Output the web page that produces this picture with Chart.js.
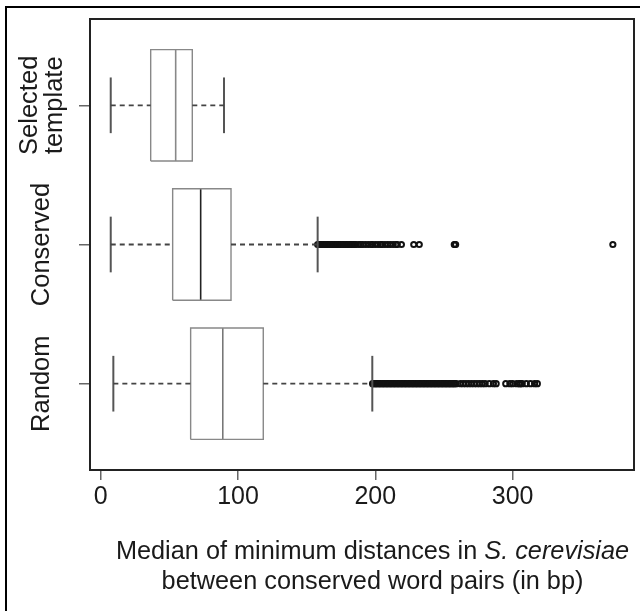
<!DOCTYPE html>
<html>
<head>
<meta charset="utf-8">
<script src="https://cdn.jsdelivr.net/npm/chart.js@4.4.1/dist/chart.umd.min.js"></script>
<style>
body{margin:0;width:640px;height:611px;overflow:hidden;background:#fff;position:relative;font-family:'Liberation Sans',Arial,sans-serif;}
#frame{position:absolute;left:5px;top:6px;width:700px;height:700px;border:2px solid #000;}
#wrap{position:absolute;left:0;top:0;width:640px;height:611px;}
#xtitle{position:absolute;left:0;top:535px;width:745px;text-align:center;font-size:25.3px;line-height:30px;color:#1a1a1a;}
</style>
</head>
<body>
<div id="frame"></div>
<div id="wrap"><canvas id="box_chart" width="640" height="611"></canvas></div>
<div id="xtitle">Median of minimum distances in <i>S. cerevisiae</i><br>between conserved word pairs (in bp)</div>
<script>
// box plot values (bp)
var groupLabels = ['Random', 'Conserved', ['Selected', 'template']];
var groupPos = [1, 2, 3];
var lowWhisker = [9.2, 7.3, 7.3];
var lowerQ = [65.5, 52.4, 36.4];
var medians = [88.9, 72.8, 54.6];
var upperQ = [118.4, 94.9, 66.7];
var highWhisker = [197.8, 158, 89.8];

var outRandom = [198,199,200,201,202,203,204,205,206,207,208,209,210,211,212,213,214,215,216,217,218,219,220,
	221,222,223,224,225,226,227,228,229,230,231,232,233,234,235,236,237,238,239,240,241,242,243,244,245,246,
	247,248,249,250,251,252,253,254,255,256,257,258,259,
	262,264,266,268,270,272,274,276,278,280,283,286,288,
	295,298,300,303,305,305.5,307,310,313,316,318];
var outConserved = [158,159,160,161,162,163,164,165,166,167,168,169,170,171,172,173,174,175,176,177,178,179,
	180,181,182,183,184,185,186,
	188,189.5,191,193,195,197,198,200,202,204,205,207,209,211,213,215,216,219,
	228,232,257.5,258,258.5,373];
var outSelected = [];

var xTickVals = [0, 100, 200, 300];

var fontFam = "'Liberation Sans', Arial, sans-serif";

function seg(x1,y1,x2,y2){
	return [{x:x1,y:y1},{x:x2,y:y2}];
}
function lineSet(pts,color,width,dash){
	return {
		data: pts,
		showLine: true,
		pointRadius: 0,
		borderColor: color,
		borderWidth: width,
		borderDash: dash || [],
		fill: false
	};
}

function build_datasets(){
	var sets = [];
	var outs = [outRandom, outConserved, outSelected];
	var medColors = ['#777', '#222', '#888'];
	var half = 0.4, capHalf = 0.2;
	for(var i=0;i<groupPos.length;i++){
		var p = groupPos[i];
		// whiskers
		sets.push(lineSet(seg(lowWhisker[i],p,lowerQ[i],p),'#444',1.8,[5,4]));
		sets.push(lineSet(seg(upperQ[i],p,highWhisker[i],p),'#444',1.8,[5,4]));
		sets.push(lineSet(seg(lowWhisker[i],p-capHalf,lowWhisker[i],p+capHalf),'#555',2));
		sets.push(lineSet(seg(highWhisker[i],p-capHalf,highWhisker[i],p+capHalf),'#555',2));
		// box
		sets.push(lineSet([
			{x:lowerQ[i],y:p-half},{x:upperQ[i],y:p-half},
			{x:upperQ[i],y:p+half},{x:lowerQ[i],y:p+half},
			{x:lowerQ[i],y:p-half}
		],'#888',1.4));
		// median
		sets.push(lineSet(seg(medians[i],p-half,medians[i],p+half),medColors[i],1.6));
		// outliers
		sets.push({
			data: outs[i].map(function(v){ return {x:v,y:p}; }),
			showLine: false,
			pointRadius: 2.6,
			pointStyle: 'circle',
			borderWidth: 2,
			borderColor: '#111',
			backgroundColor: 'rgba(0,0,0,0)'
		});
	}
	return sets;
}

var ctx = document.getElementById('box_chart').getContext('2d');
var myChart = new Chart(ctx, {
	type: 'scatter',
	data: { datasets: build_datasets() },
	options: {
		responsive: false,
		animation: false,
		devicePixelRatio: 1,
		layout: { padding: { top: 19, right: 6, bottom: 96, left: 0 } },
		plugins: { legend: { display: false }, tooltip: { enabled: false } },
		scales: {
			x: {
				type: 'linear', position: 'bottom', min: -7.8, max: 388.4,
				afterBuildTicks: function(s){ s.ticks = xTickVals.map(function(v){ return {value:v}; }); },
				afterFit: function(s){ s.height = 45; },
				ticks: { font: { family: fontFam, size: 25 }, color: '#1a1a1a', padding: 2, maxRotation: 0, autoSkip: false },
				grid: { drawOnChartArea: false, tickLength: 10, color: '#666', lineWidth: 1.5 },
				border: { color: '#222', width: 2 }
			},
			y: {
				type: 'linear', position: 'left', min: 0.38, max: 3.62,
				afterBuildTicks: function(s){ s.ticks = groupPos.map(function(v){ return {value:v}; }); },
				afterFit: function(s){ s.width = 90; },
				ticks: {
					callback: function(v){ return groupLabels[groupPos.indexOf(v)]; },
					minRotation: 90, maxRotation: 90, crossAlign: 'center', padding: -25, autoSkip: false,
					font: { family: fontFam, size: 25.5, lineHeight: 1 }, color: '#1a1a1a'
				},
				grid: { drawOnChartArea: false, tickLength: 11, color: '#666', lineWidth: 1.5 },
				border: { color: '#222', width: 2 }
			},
			x2: {
				type: 'linear', position: 'top', display: true,
				ticks: { display: false }, grid: { display: false },
				border: { color: '#222', width: 2 },
				afterFit: function(s){ s.height = 0; }
			},
			y2: {
				type: 'linear', position: 'right', display: true,
				ticks: { display: false }, grid: { display: false },
				border: { color: '#222', width: 2 },
				afterFit: function(s){ s.width = 0; }
			}
		}
	}
});
</script>
</body>
</html>
